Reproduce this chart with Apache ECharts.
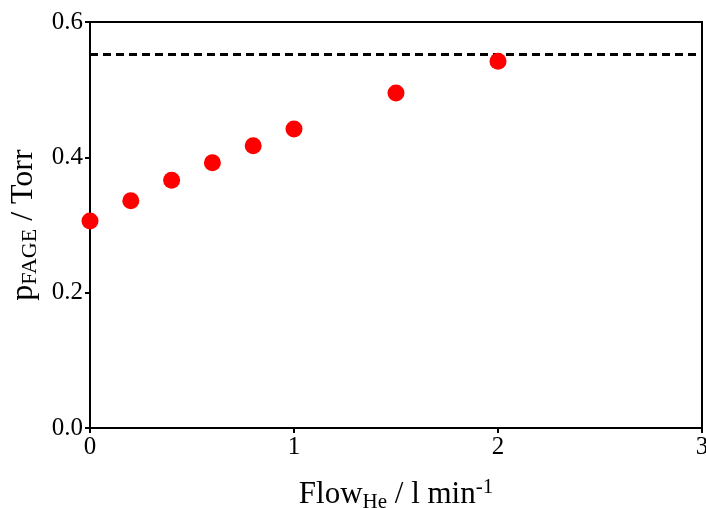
<!DOCTYPE html>
<html>
<head>
<meta charset="utf-8">
<script src="https://cdn.jsdelivr.net/npm/echarts@6/dist/echarts.min.js"></script>
<style>html,body{margin:0;padding:0;background:#fff}#c{width:706px;height:508px}</style>
</head>
<body>
<div id="c"></div>
<script>
const flow = [0, 0.2, 0.4, 0.6, 0.8, 1.0, 1.5, 2.0];
const pressure = [0.306, 0.336, 0.366, 0.392, 0.417, 0.442, 0.495, 0.542];
const limitX = [0, 3];
const limitY = [0.552, 0.552];

const F = 'Liberation Serif';
const chart = echarts.init(document.getElementById('c'), null, {renderer: 'canvas'});
chart.setOption({
  animation: false,
  backgroundColor: '#fff',
  grid: {left: 90, right: 4, top: 22, bottom: 80, show: true, borderColor: '#000', borderWidth: 2,
         containLabel: false, outerBoundsMode: 'none'},
  xAxis: {
    type: 'value', min: 0, max: 3, interval: 1,
    axisLine: {show: true, onZero: false, lineStyle: {color: '#000', width: 2}},
    axisTick: {show: true, inside: false, length: 5, lineStyle: {color: '#000', width: 2}},
    axisLabel: {color: '#000', fontFamily: F, fontSize: 25, margin: 7},
    splitLine: {show: false},
    name: '{m|Flow}{s|He}{m| / l min}{p|-1}',
    nameLocation: 'middle', nameGap: 49,
    nameTextStyle: {
      rich: {
        m: {fontFamily: F, fontSize: 31, color: '#000', lineHeight: 34},
        s: {fontFamily: F, fontSize: 21, color: '#000', lineHeight: 12, verticalAlign: 'bottom'},
        p: {fontFamily: F, fontSize: 21, color: '#000', lineHeight: 36, verticalAlign: 'top'}
      }
    }
  },
  yAxis: {
    type: 'value', min: 0, max: 0.6, interval: 0.2,
    axisLine: {show: true, lineStyle: {color: '#000', width: 2}},
    axisTick: {show: true, inside: false, length: 5, lineStyle: {color: '#000', width: 2}},
    axisLabel: {color: '#000', fontFamily: F, fontSize: 25, margin: 7, formatter: v => v.toFixed(1)},
    splitLine: {show: false},
    name: '{m|p}{s|FAGE}{m| / Torr}',
    nameLocation: 'middle', nameGap: 48, nameRotate: 90,
    nameTextStyle: {
      rich: {
        m: {fontFamily: F, fontSize: 32, color: '#000', lineHeight: 34},
        s: {fontFamily: F, fontSize: 22, color: '#000', lineHeight: 12, verticalAlign: 'bottom'}
      }
    }
  },
  series: [
    {
      type: 'line', data: limitX.map((x, i) => [x, limitY[i]]),
      symbol: 'none', silent: true, z: 1,
      lineStyle: {color: '#000', width: 3, type: [8, 5]}
    },
    {
      type: 'scatter', data: flow.map((x, i) => [x, pressure[i]]),
      symbol: 'circle', symbolSize: 17, z: 3,
      itemStyle: {color: '#ff0000', opacity: 1}
    }
  ]
});
</script>
</body>
</html>
